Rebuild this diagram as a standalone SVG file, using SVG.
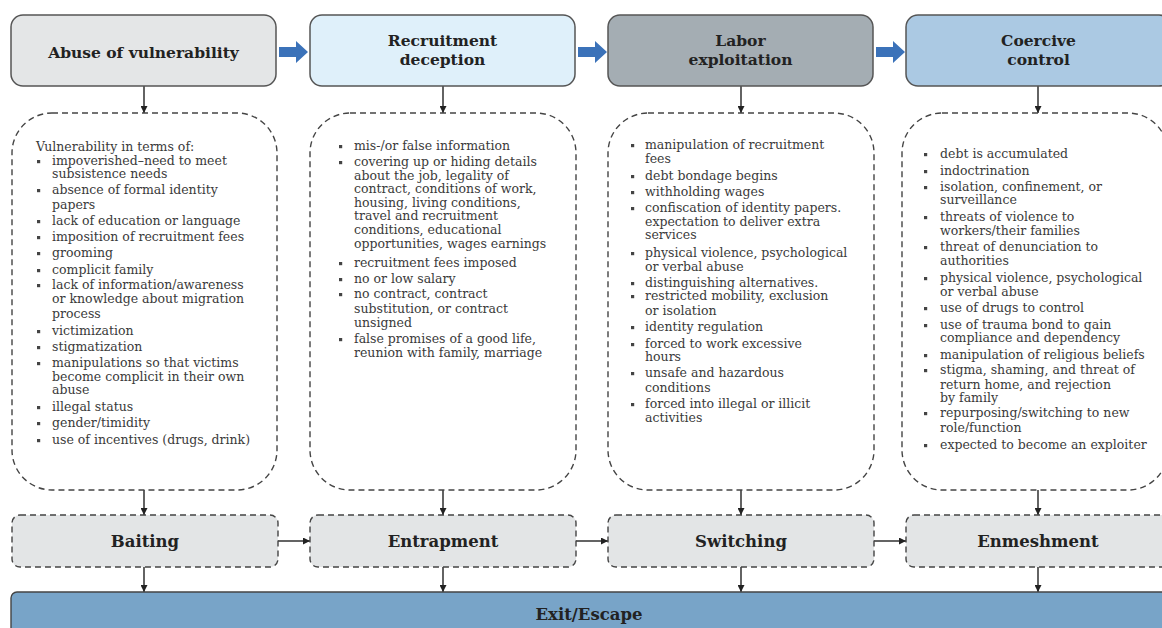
<svg xmlns="http://www.w3.org/2000/svg" width="1162" height="628" viewBox="0 0 1162 628">
<defs>
<style>
.hdr{stroke:#555;stroke-width:1.5}
.dash{fill:#fff;stroke:#444;stroke-width:1.4;stroke-dasharray:6 4}
.bot{fill:#e3e5e6;stroke:#444;stroke-width:1.4;stroke-dasharray:6 4}
.ht{font-family:"DejaVu Serif",serif;font-weight:bold;font-size:15.5px;fill:#222;text-anchor:middle}
.bt{font-family:"DejaVu Serif",serif;font-weight:bold;font-size:16.5px;fill:#222;text-anchor:middle}
.tx{font-family:"DejaVu Serif",serif;font-size:12.5px;fill:#3a3a3a}
.ln{stroke:#222;stroke-width:1.4;fill:none;marker-end:url(#ah)}
.blk{fill:#3b72b9}
</style>
<marker id="ah" viewBox="0 0 10 10" refX="10" refY="5" markerWidth="7" markerHeight="7" markerUnits="userSpaceOnUse" orient="auto">
<path d="M0,0 L10,5 L0,10 z" fill="#222"/>
</marker>
<rect id="b" width="3.2" height="3.2" fill="#444"/>
</defs>
<rect width="1162" height="628" fill="#fff"/>

<g id="connectors">
<polygon class="blk" points="279,47 296,47 296,41 308,52 296,63 296,57 279,57"/>
<polygon class="blk" points="578,47 595,47 595,41 607,52 595,63 595,57 578,57"/>
<polygon class="blk" points="876,47 893,47 893,41 905,52 893,63 893,57 876,57"/>
<line class="ln" x1="144" y1="86" x2="144" y2="113"/>
<line class="ln" x1="443" y1="86" x2="443" y2="113"/>
<line class="ln" x1="741" y1="86" x2="741" y2="113"/>
<line class="ln" x1="1038" y1="86" x2="1038" y2="113"/>
<line class="ln" x1="144" y1="490" x2="144" y2="515"/>
<line class="ln" x1="443" y1="490" x2="443" y2="515"/>
<line class="ln" x1="741" y1="490" x2="741" y2="515"/>
<line class="ln" x1="1038" y1="490" x2="1038" y2="515"/>
<line class="ln" x1="278" y1="541" x2="310" y2="541"/>
<line class="ln" x1="576" y1="541" x2="608" y2="541"/>
<line class="ln" x1="874" y1="541" x2="906" y2="541"/>
<line class="ln" x1="144" y1="567" x2="144" y2="592"/>
<line class="ln" x1="443" y1="567" x2="443" y2="592"/>
<line class="ln" x1="741" y1="567" x2="741" y2="592"/>
<line class="ln" x1="1038" y1="567" x2="1038" y2="592"/>
</g>

<g id="abuse-of-vulnerability">
<rect class="hdr" x="11" y="15" width="265" height="71" rx="12" fill="#e4e6e7"/>
<text class="ht" x="143.5" y="58">Abuse of vulnerability</text>
</g>
<g id="recruitment-deception">
<rect class="hdr" x="310" y="15" width="265" height="71" rx="12" fill="#dff0fa"/>
<text class="ht" x="442.5" y="46">Recruitment</text>
<text class="ht" x="442.5" y="65">deception</text>
</g>
<g id="labor-exploitation">
<rect class="hdr" x="608" y="15" width="265" height="71" rx="12" fill="#a4adb3"/>
<text class="ht" x="740.5" y="46">Labor</text>
<text class="ht" x="740.5" y="65">exploitation</text>
</g>
<g id="coercive-control">
<rect class="hdr" x="906" y="15" width="265" height="71" rx="12" fill="#abc9e3"/>
<text class="ht" x="1038.5" y="46">Coercive</text>
<text class="ht" x="1038.5" y="65">control</text>
</g>

<g id="vulnerability-details">
<rect class="dash" x="12" y="113" width="265" height="377" rx="40"/>
<text class="tx" x="36" y="151">Vulnerability in terms of:</text>
<use href="#b" x="37" y="160"/><text class="tx" x="52" y="165">impoverished–need to meet</text>
<text class="tx" x="52" y="178">subsistence needs</text>
<use href="#b" x="37" y="189"/><text class="tx" x="52" y="194">absence of formal identity</text>
<text class="tx" x="52" y="209">papers</text>
<use href="#b" x="37" y="220"/><text class="tx" x="52" y="225">lack of education or language</text>
<use href="#b" x="37" y="236"/><text class="tx" x="52" y="241">imposition of recruitment fees</text>
<use href="#b" x="37" y="252"/><text class="tx" x="52" y="257">grooming</text>
<use href="#b" x="37" y="269"/><text class="tx" x="52" y="274">complicit family</text>
<use href="#b" x="37" y="284"/><text class="tx" x="52" y="289">lack of information/awareness</text>
<text class="tx" x="52" y="303">or knowledge about migration</text>
<text class="tx" x="52" y="318">process</text>
<use href="#b" x="37" y="330"/><text class="tx" x="52" y="335">victimization</text>
<use href="#b" x="37" y="346"/><text class="tx" x="52" y="351">stigmatization</text>
<use href="#b" x="37" y="362"/><text class="tx" x="52" y="367">manipulations so that victims</text>
<text class="tx" x="52" y="381">become complicit in their own</text>
<text class="tx" x="52" y="394">abuse</text>
<use href="#b" x="37" y="406"/><text class="tx" x="52" y="411">illegal status</text>
<use href="#b" x="37" y="422"/><text class="tx" x="52" y="427">gender/timidity</text>
<use href="#b" x="37" y="439"/><text class="tx" x="52" y="444">use of incentives (drugs, drink)</text>
</g>

<g id="deception-details">
<rect class="dash" x="310" y="113" width="266" height="377" rx="40"/>
<use href="#b" x="339" y="145"/><text class="tx" x="354" y="150">mis-/or false information</text>
<use href="#b" x="339" y="161"/><text class="tx" x="354" y="166">covering up or hiding details</text>
<text class="tx" x="354" y="180">about the job, legality of</text>
<text class="tx" x="354" y="193">contract, conditions of work,</text>
<text class="tx" x="354" y="207">housing, living conditions,</text>
<text class="tx" x="354" y="220">travel and recruitment</text>
<text class="tx" x="354" y="234">conditions, educational</text>
<text class="tx" x="354" y="248">opportunities, wages earnings</text>
<use href="#b" x="339" y="262"/><text class="tx" x="354" y="267">recruitment fees imposed</text>
<use href="#b" x="339" y="278"/><text class="tx" x="354" y="283">no or low salary</text>
<use href="#b" x="339" y="293"/><text class="tx" x="354" y="298">no contract, contract</text>
<text class="tx" x="354" y="313">substitution, or contract</text>
<text class="tx" x="354" y="327">unsigned</text>
<use href="#b" x="339" y="338"/><text class="tx" x="354" y="343">false promises of a good life,</text>
<text class="tx" x="354" y="357">reunion with family, marriage</text>
</g>

<g id="exploitation-details">
<rect class="dash" x="608" y="113" width="266" height="377" rx="40"/>
<use href="#b" x="631" y="144"/><text class="tx" x="645" y="149">manipulation of recruitment</text>
<text class="tx" x="645" y="163">fees</text>
<use href="#b" x="631" y="175"/><text class="tx" x="645" y="180">debt bondage begins</text>
<use href="#b" x="631" y="191"/><text class="tx" x="645" y="196">withholding wages</text>
<use href="#b" x="631" y="207"/><text class="tx" x="645" y="212">confiscation of identity papers.</text>
<text class="tx" x="645" y="226">expectation to deliver extra</text>
<text class="tx" x="645" y="239">services</text>
<use href="#b" x="631" y="252"/><text class="tx" x="645" y="257">physical violence, psychological</text>
<text class="tx" x="645" y="271">or verbal abuse</text>
<use href="#b" x="631" y="282"/><text class="tx" x="645" y="287">distinguishing alternatives.</text>
<use href="#b" x="631" y="295"/><text class="tx" x="645" y="300">restricted mobility, exclusion</text>
<text class="tx" x="645" y="315">or isolation</text>
<use href="#b" x="631" y="326"/><text class="tx" x="645" y="331">identity regulation</text>
<use href="#b" x="631" y="343"/><text class="tx" x="645" y="348">forced to work excessive</text>
<text class="tx" x="645" y="361">hours</text>
<use href="#b" x="631" y="372"/><text class="tx" x="645" y="377">unsafe and hazardous</text>
<text class="tx" x="645" y="392">conditions</text>
<use href="#b" x="631" y="403"/><text class="tx" x="645" y="408">forced into illegal or illicit</text>
<text class="tx" x="645" y="422">activities</text>
</g>

<g id="control-details">
<rect class="dash" x="902" y="113" width="266" height="377" rx="40"/>
<use href="#b" x="924" y="153"/><text class="tx" x="940" y="158">debt is accumulated</text>
<use href="#b" x="924" y="170"/><text class="tx" x="940" y="175">indoctrination</text>
<use href="#b" x="924" y="186"/><text class="tx" x="940" y="191">isolation, confinement, or</text>
<text class="tx" x="940" y="204">surveillance</text>
<use href="#b" x="924" y="216"/><text class="tx" x="940" y="221">threats of violence to</text>
<text class="tx" x="940" y="235">workers/their families</text>
<use href="#b" x="924" y="246"/><text class="tx" x="940" y="251">threat of denunciation to</text>
<text class="tx" x="940" y="265">authorities</text>
<use href="#b" x="924" y="277"/><text class="tx" x="940" y="282">physical violence, psychological</text>
<text class="tx" x="940" y="296">or verbal abuse</text>
<use href="#b" x="924" y="307"/><text class="tx" x="940" y="312">use of drugs to control</text>
<use href="#b" x="924" y="324"/><text class="tx" x="940" y="329">use of trauma bond to gain</text>
<text class="tx" x="940" y="342">compliance and dependency</text>
<use href="#b" x="924" y="354"/><text class="tx" x="940" y="359">manipulation of religious beliefs</text>
<use href="#b" x="924" y="369"/><text class="tx" x="940" y="374">stigma, shaming, and threat of</text>
<text class="tx" x="940" y="389">return home, and rejection</text>
<text class="tx" x="940" y="402">by family</text>
<use href="#b" x="924" y="412"/><text class="tx" x="940" y="417">repurposing/switching to new</text>
<text class="tx" x="940" y="432">role/function</text>
<use href="#b" x="924" y="444"/><text class="tx" x="940" y="449">expected to become an exploiter</text>
</g>

<g id="baiting">
<rect class="bot" x="12" y="515" width="266" height="52" rx="8"/>
<text class="bt" x="145" y="547">Baiting</text>
</g>
<g id="entrapment">
<rect class="bot" x="310" y="515" width="266" height="52" rx="8"/>
<text class="bt" x="443" y="547">Entrapment</text>
</g>
<g id="switching">
<rect class="bot" x="608" y="515" width="266" height="52" rx="8"/>
<text class="bt" x="741" y="547">Switching</text>
</g>
<g id="enmeshment">
<rect class="bot" x="906" y="515" width="266" height="52" rx="8"/>
<text class="bt" x="1038" y="547">Enmeshment</text>
</g>

<g id="exit-escape">
<rect x="11" y="592" width="1165" height="50" rx="6" fill="#78a4c8" stroke="#444" stroke-width="1.4"/>
<text class="bt" x="589" y="620">Exit/Escape</text>
</g>
</svg>
